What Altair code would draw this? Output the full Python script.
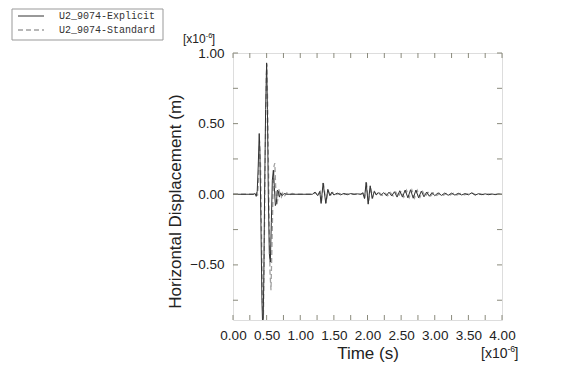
import altair as alt
import pandas as pd

# ---- data (time in 1e-6 s, displacement in 1e-6 m) ----
t_exp = [0.00, 0.30, 0.33, 0.345, 0.36, 0.375, 0.39, 0.40, 0.415, 0.43, 0.445, 0.458, 0.47, 0.485,
         0.50, 0.512, 0.525, 0.54, 0.555, 0.57, 0.585, 0.60, 0.615, 0.63, 0.645, 0.66, 0.675, 0.69,
         0.71, 0.73, 0.76, 0.80, 1.18, 1.22, 1.26, 1.29, 1.31, 1.34, 1.38, 1.41, 1.44, 1.47, 1.50,
         1.55, 1.60, 1.65, 1.70, 1.75, 1.80, 1.85, 1.90, 1.93, 1.955, 1.98, 2.01, 2.04, 2.07, 2.10,
         2.13, 2.16, 2.20, 2.24, 2.28, 2.32, 2.36, 2.40, 2.44, 2.48, 2.52, 2.56, 2.60, 2.64, 2.68,
         2.72, 2.76, 2.80, 2.84, 2.88, 2.92, 2.96, 3.00, 3.05, 3.10, 3.15, 3.20, 3.25, 3.30, 3.35,
         3.40, 3.45, 3.50, 3.55, 3.60, 3.65, 3.70, 3.75, 3.80, 3.85, 3.90, 3.95, 4.00]
u_exp = [0.0, 0.0, 0.005, -0.015, 0.02, 0.2, 0.43, 0.3, -0.2, -0.75, -1.0, -0.6, 0.0, 0.6,
         0.93, 0.6, 0.0, -0.42, -0.48, -0.2, 0.1, 0.17, 0.05, -0.08, -0.06, 0.03, 0.02, -0.02,
         0.01, -0.01, 0.005, 0.0, 0.0, 0.015, -0.01, 0.02, -0.065, 0.08, -0.065, 0.035, -0.01, 0.015, -0.005,
         0.008, -0.004, 0.006, -0.003, 0.005, 0.0, 0.003, 0.0, 0.01, -0.03, 0.085, -0.07, 0.06, -0.03, 0.02,
         -0.005, 0.012, -0.008, 0.012, -0.01, 0.015, -0.012, 0.018, -0.02, 0.025, -0.02, 0.03, -0.025, 0.032, -0.028,
         0.03, -0.025, 0.022, -0.018, 0.016, -0.014, 0.012, -0.01, 0.01, -0.008, 0.009, -0.007, 0.008, -0.006, 0.007,
         -0.005, 0.005, -0.004, 0.01, -0.006, 0.004, -0.003, 0.003, -0.003, 0.002, -0.002, 0.002, 0.0]

t_std = [0.00, 0.33, 0.35, 0.365, 0.38, 0.395, 0.41, 0.425, 0.44, 0.452, 0.465, 0.48, 0.495, 0.505,
         0.52, 0.535, 0.55, 0.565, 0.58, 0.595, 0.61, 0.622, 0.635, 0.65, 0.665, 0.68, 0.70, 0.72,
         0.74, 0.77, 0.80, 0.84, 0.88, 0.92, 1.19, 1.225, 1.265, 1.295, 1.315, 1.345, 1.385, 1.415, 1.445,
         1.48, 1.52, 1.58, 1.64, 1.70, 1.78, 1.90, 1.935, 1.96, 1.985, 2.015, 2.045, 2.075, 2.105,
         2.14, 2.18, 2.22, 2.26, 2.30, 2.34, 2.38, 2.42, 2.46, 2.50, 2.54, 2.58, 2.62, 2.66, 2.70,
         2.74, 2.78, 2.82, 2.86, 2.90, 2.94, 2.98, 3.03, 3.08, 3.13, 3.18, 3.23, 3.28, 3.33, 3.38,
         3.44, 3.50, 3.56, 3.62, 3.68, 3.74, 3.80, 3.88, 3.95, 4.00]
u_std = [0.0, 0.0, 0.01, -0.01, 0.1, 0.38, 0.2, -0.3, -0.8, -0.88, -0.4, 0.3, 0.85, 0.92,
         0.5, -0.1, -0.55, -0.68, -0.35, 0.0, 0.2, 0.22, 0.05, -0.08, -0.04, 0.04, 0.0, -0.02,
         0.01, -0.01, 0.01, -0.005, 0.005, 0.0, 0.0, 0.012, -0.01, 0.018, -0.06, 0.075, -0.06, 0.03, -0.012,
         0.012, -0.004, 0.006, -0.003, 0.004, 0.0, 0.0, 0.008, -0.028, 0.08, -0.065, 0.055, -0.028, 0.018,
         -0.006, 0.01, -0.008, 0.01, -0.01, 0.013, -0.012, 0.016, -0.018, 0.022, -0.02, 0.028, -0.024, 0.03, -0.026,
         0.028, -0.022, 0.02, -0.016, 0.014, -0.012, 0.01, -0.009, 0.009, -0.007, 0.008, -0.006, 0.007, -0.005, 0.006,
         -0.004, 0.004, 0.008, -0.005, 0.003, -0.003, 0.002, -0.002, 0.001, 0.0]

x_labels = [0.0, 0.5, 1.0, 1.5, 2.0, 2.5, 3.0, 3.5, 4.0]
y_labels = [-0.5, 0.0, 0.5, 1.0]
x_ticks = [0.25 * i for i in range(17)]
y_ticks = [-0.75, -0.5, -0.25, 0.0, 0.25, 0.5, 0.75, 1.0]
legend_names = ["U2_9074-Explicit", "U2_9074-Standard"]

W, H = 269, 267
FRAME = "#8a8a7c"
FONT = "Liberation Sans"

df_exp = pd.DataFrame({"t": t_exp, "u": u_exp})
df_std = pd.DataFrame({"t": t_std, "u": u_std})

xs = alt.Scale(domain=[0, 4.0], nice=False, zero=False)
ys = alt.Scale(domain=[-0.89, 1.0], nice=False, zero=False)

x_axis = alt.Axis(values=x_labels, format=".2f", title="Time (s)", grid=False, ticks=False,
                  tickSize=0, domain=False, labelPadding=8, labelFontSize=13.5, labelFont=FONT,
                  labelColor="#222", labelOverlap=False, labelFlush=False, titleFont=FONT,
                  titleFontSize=17, titleFontWeight="normal", titleColor="#222", titleY=38,
                  titleBaseline="alphabetic")
y_axis = alt.Axis(values=y_labels, format=".2f", title="Horizontal Displacement (m)", grid=False,
                  ticks=False, tickSize=0, domain=False, labelPadding=9, labelFontSize=13.5,
                  labelFont=FONT, labelColor="#222", labelOverlap=False, labelFlush=False,
                  titleFont=FONT, titleFontSize=17, titleFontWeight="normal", titleColor="#222",
                  titleX=-58, titleY=148, titleBaseline="middle", titleAlign="center", titleAngle=270)

def X(f):
    return alt.X(f, scale=xs, axis=x_axis)

def Y(f):
    return alt.Y(f, scale=ys, axis=y_axis)

line_std = alt.Chart(df_std).mark_line(color="#a0a0a0", strokeWidth=1.3, strokeDash=[5, 3],
                                       clip=True).encode(x=X("t:Q"), y=Y("u:Q"))
line_exp = alt.Chart(df_exp).mark_line(color="#333333", strokeWidth=1.0, clip=True).encode(
    x=X("t:Q"), y=Y("u:Q"))

dxt = pd.DataFrame({"t": x_ticks})
dyt = pd.DataFrame({"u": y_ticks})
tick_b = alt.Chart(dxt).mark_rule(color=FRAME, strokeWidth=1).encode(
    x=X("t:Q"), y=alt.value(H), y2=alt.value(H - 5))
tick_t = alt.Chart(dxt).mark_rule(color=FRAME, strokeWidth=1).encode(
    x=X("t:Q"), y=alt.value(0), y2=alt.value(5))
tick_l = alt.Chart(dyt).mark_rule(color=FRAME, strokeWidth=1).encode(
    y=Y("u:Q"), x=alt.value(0), x2=alt.value(5))
tick_r = alt.Chart(dyt).mark_rule(color=FRAME, strokeWidth=1).encode(
    y=Y("u:Q"), x=alt.value(W), x2=alt.value(W - 5))

# legend box
leg_box = alt.Chart(pd.DataFrame({"a": [0]})).mark_rect(fill=None, stroke="#999999", strokeWidth=1).encode(
    x=alt.value(-221), x2=alt.value(-70), y=alt.value(-44), y2=alt.value(-13))
leg_l1 = alt.Chart(pd.DataFrame({"a": [0]})).mark_rule(color="#333333", strokeWidth=1).encode(
    x=alt.value(-215), x2=alt.value(-189), y=alt.value(-37))
leg_l2 = alt.Chart(pd.DataFrame({"a": [0]})).mark_rule(color="#a0a0a0", strokeWidth=1.3, strokeDash=[5, 3]).encode(
    x=alt.value(-215), x2=alt.value(-189), y=alt.value(-23))
leg_t1 = alt.Chart(pd.DataFrame({"s": [legend_names[0]]})).mark_text(
    font="Liberation Mono", fontSize=10, color="#333", align="left", baseline="middle").encode(
    text="s:N", x=alt.value(-174), y=alt.value(-37))
leg_t2 = alt.Chart(pd.DataFrame({"s": [legend_names[1]]})).mark_text(
    font="Liberation Mono", fontSize=10, color="#333", align="left", baseline="middle").encode(
    text="s:N", x=alt.value(-174), y=alt.value(-23))

def mult(x0, yb, size):
    base = alt.Chart(pd.DataFrame({"s": ["[x10"]})).mark_text(
        font=FONT, fontSize=size, color="#222", align="left", baseline="alphabetic").encode(
        text="s:N", x=alt.value(x0), y=alt.value(yb))
    w = size * 1.89
    sup = alt.Chart(pd.DataFrame({"s": ["-6"]})).mark_text(
        font=FONT, fontSize=size * 0.62, color="#222", align="left", baseline="alphabetic").encode(
        text="s:N", x=alt.value(x0 + w), y=alt.value(yb - size * 0.42))
    br = alt.Chart(pd.DataFrame({"s": ["]"]})).mark_text(
        font=FONT, fontSize=size, color="#222", align="left", baseline="alphabetic").encode(
        text="s:N", x=alt.value(x0 + w + size * 0.5), y=alt.value(yb))
    return [base, sup, br]

ann = mult(-50, -10, 12) + mult(248, 305, 14)

chart = alt.layer(line_std, line_exp, tick_b, tick_t, tick_l, tick_r,
                  leg_box, leg_l1, leg_l2, leg_t1, leg_t2, *ann).properties(
    width=W, height=H,
    autosize=alt.AutoSizeParams(type="none"),
    padding={"left": 225, "top": 45, "right": 60, "bottom": 50},
).configure_view(stroke=FRAME, strokeWidth=1.2).configure(background="white")

chart.save("out.html", embed_options={"renderer": "svg", "actions": False})
